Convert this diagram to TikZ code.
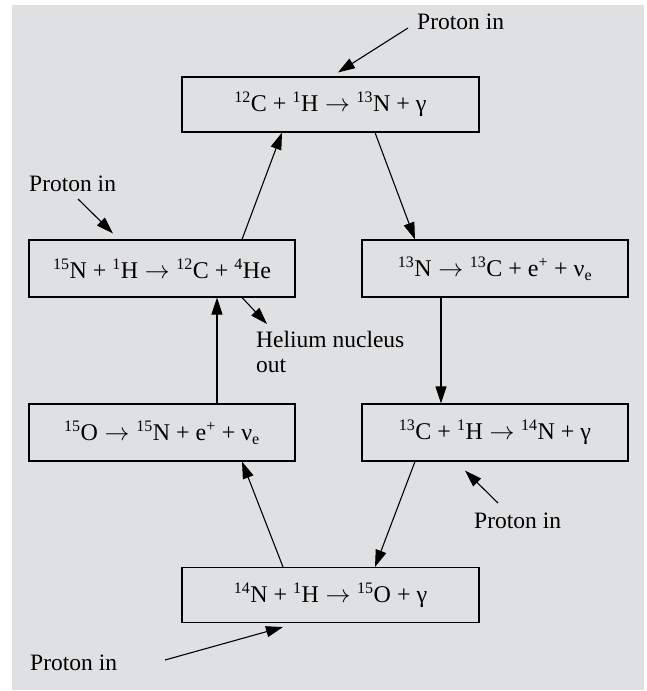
\documentclass[tikz,border=0pt]{standalone}
\usepackage{fontspec}
\setmainfont{Liberation Serif}
\usetikzlibrary{arrows.meta}
\definecolor{bgc}{RGB}{223,224,226}
\newcommand{\sps}[1]{\textsuperscript{\fontsize{16}{16}\selectfont #1}}
\newcommand{\ra}{\;$\rightarrow$\;}
\newcommand{\sbe}{\textsubscript{\fontsize{16}{16}\selectfont e}}
\tikzset{
  rx/.style={draw=black, line width=1.1pt, minimum width=297pt, minimum height=55pt, inner sep=0pt,
    font=\fontsize{24}{26}\selectfont},
  rxs/.style={rx, minimum width=266pt, minimum height=57pt},
  lbl/.style={anchor=west, inner sep=0pt, font=\fontsize{23.5}{25}\selectfont, align=left},
  arr/.style={line width=1.1pt, -{Triangle[length=17pt,width=11pt]}}
}
\begin{document}
\begin{tikzpicture}[x=1pt,y=-1pt]
\useasboundingbox (0,0) rectangle (647,691);
\fill[bgc] (12,5) rectangle (644,690);
\node[rx]  (b1) at (330.5,104.5) {\sps{12}C + \sps{1}H\ra\sps{13}N + γ};
\node[rxs] (b2) at (162,268.5) {\sps{15}N + \sps{1}H\ra\sps{12}C + \sps{4}He};
\node[rxs] (b3) at (495,268.5) {\sps{13}N\ra\sps{13}C + e\sps{+} + ν\sbe};
\node[rxs] (b4) at (495,432.5) {\sps{13}C + \sps{1}H\ra\sps{14}N + γ};
\node[rxs] (b5) at (162,432.5) {\sps{15}O\ra\sps{15}N + e\sps{+} + ν\sbe};
\node[rx]  (b6) at (330.5,595) {\sps{14}N + \sps{1}H\ra\sps{15}O + γ};
% cycle arrows
\draw[arr] ([xshift=44.5]b1.south) -- ([xshift=-80]b3.north);
\draw[arr] ([xshift=-54]b3.south) -- ([xshift=-54]b4.north);
\draw[arr] ([xshift=-80]b4.south) -- ([xshift=44.5]b6.north);
\draw[arr] ([xshift=-47.5]b6.north) -- ([xshift=80]b5.south);
\draw[arr] ([xshift=55]b5.north) -- ([xshift=55]b2.south);
\draw[arr] ([xshift=80]b2.north) -- ([xshift=-48.5]b1.south);
% labels
\node[lbl] (p1) at (417,22) {Proton in};
\coordinate (p1s) at (408,28);
\draw[arr] (p1s) -- ([xshift=7.5,yshift=4]b1.north);
\node[lbl] (p2) at (29,184) {Proton in};
\coordinate (p2s) at (78,199);
\draw[arr] (p2s) -- ([xshift=-49,yshift=6]b2.north);
\node[lbl] (he) at (256,352) {Helium nucleus\\out};
\coordinate (hee) at (267,324);
\draw[arr] ([xshift=80]b2.south) -- (hee);
\node[lbl] (p3) at (474,521) {Proton in};
\coordinate (p3s) at (498,503);
\draw[arr] (p3s) -- ([xshift=-30,yshift=-9]b4.south);
\node[lbl] (p4) at (30,663) {Proton in};
\coordinate (p4s) at (165,660);
\draw[arr] (p4s) -- ([xshift=-47.5,yshift=-4]b6.south);
\end{tikzpicture}
\end{document}
